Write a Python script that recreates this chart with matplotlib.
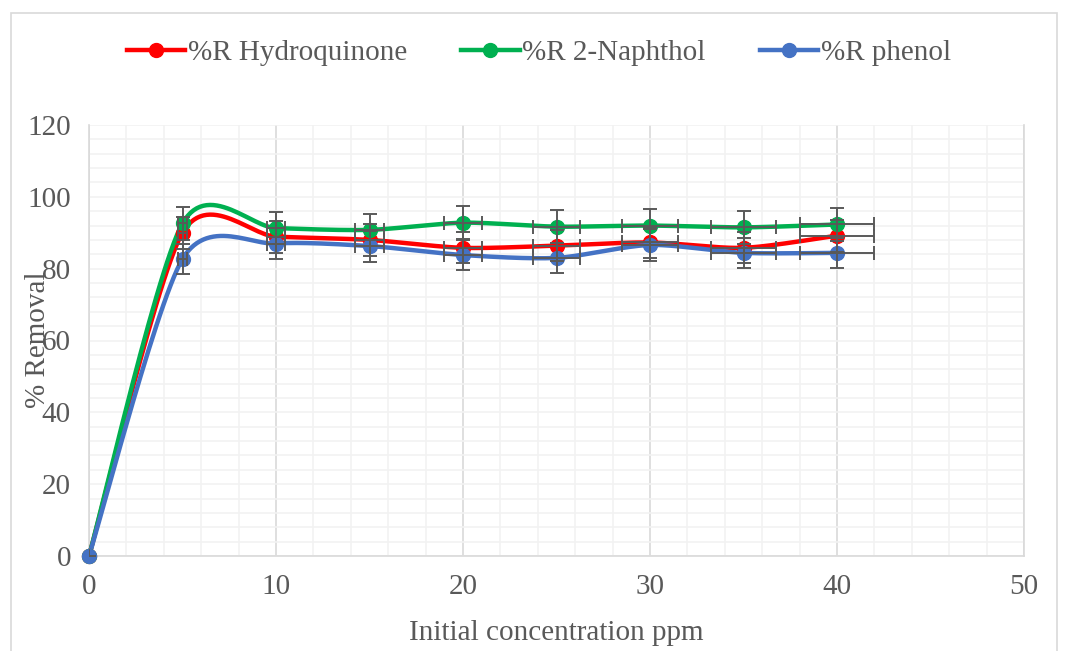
import numpy as np
import matplotlib
matplotlib.use("Agg")
import matplotlib.pyplot as plt
from matplotlib.patches import Rectangle

# ---- data ----
conc = [0, 5, 10, 15, 20, 25, 30, 35, 40]
hydroquinone = [0, 90.0, 88.9, 88.0, 85.8, 86.4, 87.3, 85.8, 89.2]
naphthol = [0, 92.6, 91.3, 90.8, 92.8, 91.7, 92.0, 91.5, 92.3]
phenol = [0, 82.7, 87.0, 86.3, 83.8, 83.0, 86.6, 84.4, 84.4]
series_names = ["%R Hydroquinone", "%R 2-Naphthol", "%R phenol"]
colors = ["#FF0000", "#00B050", "#4472C4"]
err_pct = 0.05
xlabel = "Initial concentration ppm"
ylabel = "% Removal"

plt.rcParams['font.family'] = ['Liberation Serif', 'DejaVu Serif']
txt = "#595959"
FS = 21

W, H = 1068, 651
fig = plt.figure(figsize=(W / 100, H / 100), dpi=100)
ax = fig.add_axes([89 / W, 1 - 556 / H, (1024 - 89) / W, (556 - 125) / H])
ax.set_xlim(0, 50)
ax.set_ylim(0, 120)

# outer chart border
fig.patches.append(Rectangle((11 / W, -0.1), (1057 - 11) / W, 1.1 - 13 / H,
                             transform=fig.transFigure, fill=False,
                             edgecolor="#D9D9D9", lw=1.2))

ax.set_xticks(np.arange(0, 51, 10))
ax.set_xticks(np.arange(0, 51, 2), minor=True)
ax.set_yticks(np.arange(0, 121, 20))
ax.set_yticks(np.arange(0, 121, 4), minor=True)
ax.grid(which="minor", color="#F2F2F2", lw=1.2)
ax.grid(which="major", axis="y", color="#F2F2F2", lw=1.2)
ax.grid(which="major", axis="x", color="#D9D9D9", lw=1.2)
ax.set_axisbelow(True)
ax.tick_params(which="both", length=0, labelsize=FS, colors=txt)
ax.tick_params(axis="x", pad=13)
ax.tick_params(axis="y", pad=13)
for s in ["top"]:
    ax.spines[s].set_visible(False)
for s in ["left", "bottom", "right"]:
    ax.spines[s].set_color("#D9D9D9")
    ax.spines[s].set_linewidth(1.2)

# pixel scales for Excel-like smoothing
sx = (1024 - 89) / 50.0
sy = (556 - 125) / 120.0


def smooth(xs, ys, n=30, k=7.5):
    P = np.column_stack([np.asarray(xs, float) * sx, np.asarray(ys, float) * sy])
    out = []
    m = len(P)
    for i in range(m - 1):
        p0 = P[i - 1] if i > 0 else P[i]
        p1 = P[i]
        p2 = P[i + 1]
        p3 = P[i + 2] if i + 2 < m else P[i + 1]
        c1 = p1 + (p2 - p0) / k
        c2 = p2 - (p3 - p1) / k
        t = np.linspace(0, 1, n)[:, None]
        seg = ((1 - t) ** 3) * p1 + 3 * ((1 - t) ** 2) * t * c1 + 3 * (1 - t) * t ** 2 * c2 + t ** 3 * p2
        out.append(seg if i == 0 else seg[1:])
    out = np.vstack(out)
    return out[:, 0] / sx, out[:, 1] / sy


for ys, c, name in zip([hydroquinone, naphthol, phenol], colors, series_names):
    xs_s, ys_s = smooth(conc, ys)
    ax.plot(xs_s, ys_s, color=c, lw=3.2, zorder=3, solid_capstyle="round", clip_on=False)
    ax.plot(conc, ys, "o", color=c, ms=10, zorder=4, clip_on=False)
    ax.errorbar(conc, ys, xerr=[err_pct * x for x in conc], yerr=[err_pct * y for y in ys],
                fmt="none", ecolor="#595959", elinewidth=1.4, capsize=5, capthick=1.4, zorder=5)
    ax.plot([], [], "-o", color=c, lw=3.2, ms=10, label=name)

leg = ax.legend(loc="center", bbox_to_anchor=(539 / W, (651 - 53) / 651), bbox_transform=fig.transFigure,
                ncol=3, frameon=False, fontsize=FS, handlelength=2.0, handletextpad=0.1,
                columnspacing=1.85)
for t in leg.get_texts():
    t.set_color(txt)

ax.set_xlabel(xlabel, fontsize=FS, color=txt, labelpad=14)
fig.text(38 / W, 1 - 340 / H, ylabel, rotation=90, fontsize=FS, color=txt,
         ha="center", va="center")

fig.savefig("out.png", dpi=100)
